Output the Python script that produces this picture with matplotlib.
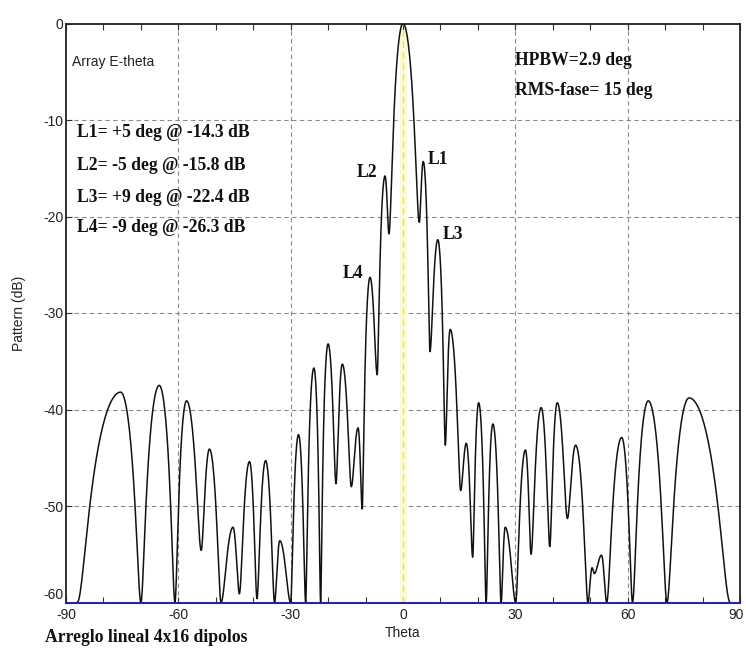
import numpy as np
import matplotlib
matplotlib.use("Agg")
import matplotlib.pyplot as plt
from matplotlib.transforms import ScaledTranslation

plt.rcParams["axes.unicode_minus"] = False

# Lobe extrema of the array pattern (alternating nulls and peaks), theta in deg, level in dB
theta_ext = [-87.0, -75.4, -70.0, -65.1, -60.9, -57.8, -53.9, -51.7, -48.6, -45.4,
             -43.7, -41.0, -39.0, -36.7, -34.3, -32.9, -30.0, -27.9, -26.0, -23.8,
             -22.0, -20.0, -17.9, -16.2, -13.8, -12.0, -10.9, -8.8, -6.9, -4.8,
             -3.75, 0.0, 4.35, 5.4, 7.2, 9.3, 11.3, 12.6, 15.4, 16.9,
             18.6, 20.2, 22.2, 24.0, 26.2, 27.3, 30.1, 32.7, 34.2, 36.9,
             39.2, 41.2, 43.9, 46.1, 49.4, 50.5, 51.1, 53.0, 54.4, 58.4,
             61.3, 65.5, 70.5, 76.4, 87.4]
db_ext = [-60.0, -38.2, -60.0, -37.5, -60.0, -39.1, -54.6, -44.1, -60.0, -52.2,
          -59.1, -45.4, -59.6, -45.3, -60.0, -53.6, -60.0, -42.6, -60.0, -35.7,
          -60.0, -33.2, -47.7, -35.3, -48.0, -41.9, -50.3, -26.3, -36.4, -15.8,
          -21.8, 0.0, -20.6, -14.3, -34.0, -22.4, -43.7, -31.7, -48.4, -43.5,
          -55.3, -39.3, -60.0, -41.5, -60.0, -52.2, -60.0, -44.2, -55.0, -39.8,
          -54.2, -39.3, -51.3, -43.7, -60.0, -56.4, -57.0, -55.1, -60.0, -42.9,
          -60.0, -39.1, -60.0, -38.8, -60.0]

# Text annotations
panel_title = "Array E-theta"
lobe_lines = ["L1= +5 deg @ -14.3 dB", "L2= -5 deg @ -15.8 dB",
              "L3= +9 deg @ -22.4 dB", "L4= -9 deg @ -26.3 dB"]
lobe_tags = ["L1", "L2", "L3", "L4"]
beam_lines = ["HPBW=2.9 deg", "RMS-fase= 15 deg"]
footer = "Arreglo lineal 4x16 dipolos"

x_ticks = [-90, -60, -30, 0, 30, 60, 90]
y_ticks = [0, -10, -20, -30, -40, -50, -60]


def smooth_pattern(th, db, n=60):
    """Join successive extrema with a raised-cosine swing in field amplitude."""
    xs, ys = [], []
    for i in range(len(th) - 1):
        t = np.linspace(0.0, 1.0, n, endpoint=False)
        a0, a1 = 10 ** (db[i] / 20), 10 ** (db[i + 1] / 20)
        w = (1 - np.cos(np.pi * t)) / 2
        amp = a0 + (a1 - a0) * w
        xs.append(th[i] + (th[i + 1] - th[i]) * t)
        ys.append(20 * np.log10(np.maximum(amp, 1e-3)))
    xs.append([th[-1]])
    ys.append([db[-1]])
    return np.concatenate(xs), np.concatenate(ys)


sans = "Liberation Sans"
serif = "Liberation Serif"
bold_size = 12.7

fig = plt.figure(figsize=(7.46, 6.49), dpi=100)
fig.patch.set_facecolor("white")
ax = fig.add_axes([66 / 746, 46.5 / 649, 674 / 746, 579 / 649])

ax.set_xlim(-90, 90)
ax.set_ylim(-60, 0)

# Grid
grid_kw = dict(color="#8c8c8c", lw=0.8, ls=(0, (4, 3)), zorder=1)
for gx in [-60, -30, 30, 60]:
    ax.axvline(gx, **grid_kw)
for gy in [-10, -20, -30, -40, -50]:
    ax.axhline(gy, **grid_kw)

# Boresight marker
ax.axvline(0, color="#fbfbd8", lw=5, zorder=1.5)
ax.axvline(0, color="#e6e650", lw=1.0, ls=(0, (5, 3)), zorder=1.6)

# Pattern
px, py = smooth_pattern(theta_ext, db_ext)
ax.plot(px, py, color="#111111", lw=1.1, zorder=3)

# Axes styling
ax.set_xticks(x_ticks)
ax.set_yticks(y_ticks)
ax.set_xticks(np.arange(-80, 90, 10), minor=True)
ax.tick_params(axis="both", which="both", direction="in", length=4, width=0.8,
               color="#333333", labelsize=10, labelcolor="#222222")
ax.tick_params(axis="x", which="both", top=True, bottom=True, pad=4)
ax.tick_params(axis="y", which="both", left=True, right=False, pad=2)
for lab in ax.get_xticklabels() + ax.get_yticklabels():
    lab.set_fontfamily(sans)
ylab_last = ax.get_yticklabels()[-1]
ylab_last.set_transform(ylab_last.get_transform()
                        + ScaledTranslation(0, 9 / 100, fig.dpi_scale_trans))
xlab_last = ax.get_xticklabels()[-1]
xlab_last.set_transform(xlab_last.get_transform()
                        + ScaledTranslation(-4 / 100, 0, fig.dpi_scale_trans))

for side in ["top", "left", "right"]:
    ax.spines[side].set_color("#222222")
    ax.spines[side].set_linewidth(1.3)
ax.spines["bottom"].set_color("#1a1ad0")
ax.spines["bottom"].set_linewidth(1.4)
ax.spines["bottom"].set_zorder(4)

ax.set_xlabel("Theta", fontfamily=sans, fontsize=10, color="#222222", labelpad=3)
ax.set_ylabel("Pattern (dB)", fontfamily=sans, fontsize=10, color="#222222", labelpad=12)

# Annotations
ax.text(-88.4, -4.0, panel_title, fontfamily=sans, fontsize=10, color="#222222",
        va="center", ha="left")
for txt, yv in zip(lobe_lines, [-11.3, -14.7, -18.0, -21.1]):
    ax.text(-87.1, yv, txt, fontfamily=serif, fontweight="bold", fontsize=bold_size,
            color="#111111", va="center", ha="left")
for txt, yv in zip(beam_lines, [-3.8, -6.9]):
    ax.text(30.0, yv, txt, fontfamily=serif, fontweight="bold", fontsize=bold_size,
            color="#111111", va="center", ha="left")
for tag, (tx, ty) in zip(lobe_tags, [(6.7, -14.1), (-12.3, -15.4), (10.7, -21.9), (-16.1, -25.9)]):
    ax.text(tx, ty, tag, fontfamily=serif, fontweight="bold", fontsize=bold_size,
            color="#111111", va="center", ha="left")

fig.text(45 / 746, 1 - 637 / 649, footer, fontfamily=serif, fontweight="bold",
         fontsize=bold_size, color="#111111", va="center", ha="left")

fig.savefig("out.png", dpi=100, facecolor="white")
